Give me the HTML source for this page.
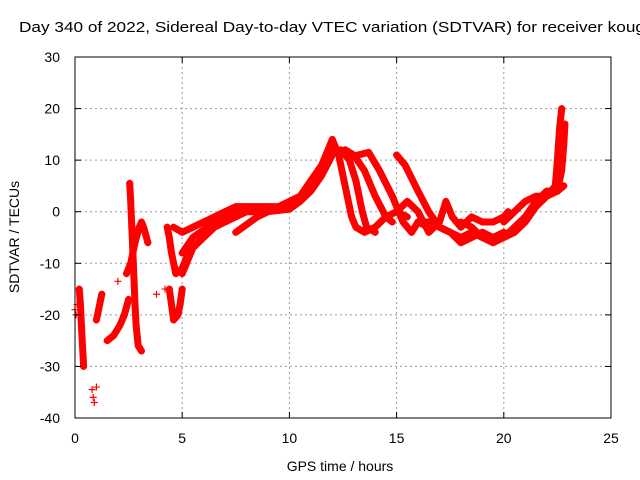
<!DOCTYPE html>
<html><head><meta charset="utf-8"><style>
body{margin:0;background:#fff;}
svg{display:block;font-family:"Liberation Sans",sans-serif;}
</style></head><body>
<svg id="chart" width="640" height="480" viewBox="0 0 640 480">
<text x="19" y="32" font-size="15" textLength="626" lengthAdjust="spacingAndGlyphs" fill="#000">Day 340 of 2022, Sidereal Day-to-day VTEC variation (SDTVAR) for receiver koug</text>
<g id="grid"></g>
<g id="marks"></g>
<rect x="75" y="57" width="536" height="361" fill="none" stroke="#000" stroke-width="1"/>
<g id="ticks"></g>
<text transform="translate(19,237) rotate(-90)" text-anchor="middle" font-size="14">SDTVAR / TECUs</text>
<text x="340" y="471" text-anchor="middle" font-size="14">GPS time / hours</text>
</svg>
<script>
const xTicks=[0,5,10,15,20,25];
const yTicks=[-40,-30,-20,-10,0,10,20,30];
const scatterPts=[[0,-19],[0.05,-20],[0.8,-34.5],[0.85,-36],[0.9,-37],[1.0,-34],[2.0,-13.5],[3.8,-16],[4.2,-15],[0.1,-18]];
const tracks=[
[[0.2,-15],[0.25,-18],[0.3,-22],[0.35,-26],[0.4,-30]],
[[1.0,-21],[1.1,-19],[1.2,-17],[1.25,-16]],
[[1.5,-25],[1.8,-24],[2.1,-22],[2.3,-20],[2.5,-17]],
[[2.55,5.5],[2.6,2],[2.65,-3],[2.7,-8],[2.75,-13],[2.8,-18],[2.85,-22],[2.95,-26],[3.1,-27]],
[[2.4,-12],[2.6,-10],[2.8,-6],[3.0,-3],[3.1,-2],[3.2,-3],[3.4,-6]],
[[4.4,-15],[4.5,-18],[4.6,-21],[4.8,-20],[4.9,-18],[5.0,-15]],
[[4.3,-3],[4.4,-5],[4.5,-8],[4.7,-12],[5.0,-11],[5.3,-8],[5.5,-6]],
[[4.6,-3],[5,-4],[5.5,-3],[6,-2],[6.5,-1],[7,0],[7.5,1],[8,1],[9,1],[9.5,1],[10,2],[10.5,3],[11,6],[11.5,9],[12,14]],
[[5,-8],[5.5,-5],[6,-3.5],[6.5,-2],[7,-1],[7.5,0],[8,0.5],[9,0.5],[10,1],[10.5,2.5],[11,5],[11.5,8],[12,12.5]],
[[5,-12],[5.5,-7],[6,-5],[6.5,-3],[7,-2],[7.5,-1],[8,0],[9,0],[10,0.5],[10.5,2],[11,4],[11.5,7],[12,11]],
[[7.5,-4],[8,-2.5],[8.5,-1],[9,0]],
[[12,14],[12.3,11],[12.6,5],[12.9,-1],[13.1,-3],[13.5,-4],[14,-3],[14.5,-1],[15,0],[15.5,-1]],
[[12.4,12],[12.8,10],[13.1,6],[13.4,0],[13.6,-3],[14,-4]],
[[12.6,12],[13.0,11],[13.5,8],[14,3],[14.5,-1],[14.8,-2]],
[[13.2,11],[13.7,11.5],[14.2,8],[14.8,3],[15.3,-2],[15.7,-4],[16,-2],[16.5,-3]],
[[15,11],[15.4,9],[16,4],[16.5,0],[17,-3],[17.5,-4],[18,-5],[18.5,-4],[19,-5],[19.5,-5],[20,-4]],
[[15,0],[15.5,2],[16,0],[16.5,-4],[17,-2],[17.3,2],[17.6,-1],[18,-3],[18.5,-1],[19,-2],[19.5,-2],[20,-1],[20.2,0]],
[[16,-2],[16.5,-2],[17,-3],[17.5,-4],[18,-6],[18.5,-5],[19,-4],[19.5,-5],[20,-5],[20.5,-4],[21,-2],[21.5,1],[22,3],[22.4,5],[22.5,10],[22.6,16],[22.7,20]],
[[18,-2],[18.5,-3],[19,-5],[19.5,-6],[20,-5],[20.5,-3],[21,-1],[21.5,2],[22,4],[22.5,4],[22.7,8],[22.8,13],[22.85,17]],
[[20,-2],[20.5,0],[21,2],[21.5,3],[22,3],[22.5,4],[22.8,5]]
];
const X0=75,X1=611,Y0=418,Y1=57;
function sx(v){return X0+(v-0)/(25-0)*(X1-X0);}
function sy(v){return Y0-(v+40)/(70)*(Y0-Y1);}
const NS="http://www.w3.org/2000/svg";
const grid=document.getElementById('grid'),ticks=document.getElementById('ticks'),marks=document.getElementById('marks');
function mk(t,a,p){const e=document.createElementNS(NS,t);for(const k in a)e.setAttribute(k,a[k]);p.appendChild(e);return e;}
xTicks.forEach(v=>{
 const x=sx(v);
 if(v>0&&v<25){const g=mk('line',{x1:x,y1:Y1,x2:x,y2:Y0,stroke:'#999','stroke-dasharray':'2,3'},grid);
 
 }
 const t=mk('line',{x1:x,y1:Y0,x2:x,y2:Y0-6,stroke:'#000'},ticks);
 
 
 const t2=mk('line',{x1:x,y1:Y1,x2:x,y2:Y1+6,stroke:'#000'},ticks);
 
 
 const l=mk('text',{x:x,y:443,'text-anchor':'middle','font-size':'14'},ticks);l.textContent=v;
 
 
});
yTicks.forEach(v=>{
 const y=sy(v);
 if(v>-40&&v<30){const g=mk('line',{x1:X0,y1:y,x2:X1,y2:y,stroke:'#999','stroke-dasharray':'2,3'},grid);
 
 }
 const t=mk('line',{x1:X0,y1:y,x2:X0+6,y2:y,stroke:'#000'},ticks);
 
 
 const t2=mk('line',{x1:X1,y1:y,x2:X1-6,y2:y,stroke:'#000'},ticks);
 
 
 const l=mk('text',{x:60,y:y+5,'text-anchor':'end','font-size':'14'},ticks);l.textContent=v;
 
 
});
function plus(x,y){
 const p=mk('path',{d:`M${x-3.5},${y}h7M${x},${y-3.5}v7`,stroke:'#f00','stroke-width':1.2,fill:'none'},marks);
 
 
}
tracks.forEach(tr=>{
 const d=tr.map((p,i)=>(i?'L':'M')+sx(p[0]).toFixed(1)+','+sy(p[1]).toFixed(1)).join('');
 const pl=mk('path',{d:d,stroke:'#f00','stroke-width':7,fill:'none','stroke-linejoin':'round','stroke-linecap':'round'},marks);
 
 
 tr.forEach(p=>plus(sx(p[0]),sy(p[1])));
});
scatterPts.forEach(p=>plus(sx(p[0]),sy(p[1])));
</script>
</body></html>
